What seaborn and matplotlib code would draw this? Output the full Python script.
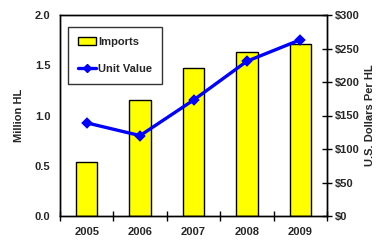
import matplotlib
matplotlib.use("Agg")
import matplotlib.pyplot as plt
import seaborn as sns
import pandas as pd
from matplotlib.ticker import FixedLocator, FuncFormatter
from matplotlib.patches import Patch
from matplotlib.lines import Line2D

years = ["2005", "2006", "2007", "2008", "2009"]
imports = [0.54, 1.15, 1.47, 1.63, 1.71]
unit_value = [139, 120, 173, 231, 263]

sns.set_theme(style="white")
plt.rcParams['font.family'] = ['Liberation Sans', 'DejaVu Sans']
plt.rcParams['font.weight'] = 'bold'

FS = 8

df = pd.DataFrame({"year": years, "imports": imports, "unit": unit_value})

fig = plt.figure(figsize=(3.83, 2.41), dpi=100)
ax = fig.add_axes([60/383, 1-216/241, (327-60)/383, (216-15)/241])

sns.barplot(data=df, x="year", y="imports", ax=ax, color="#FFFF00",
            edgecolor="black", linewidth=1.0, width=0.4, saturation=1)
ax.set_ylim(0, 2.0)
ax.set_xlim(-0.5, 4.5)
ax.set_yticks([0, 0.5, 1.0, 1.5, 2.0])
ax.yaxis.set_major_formatter(FuncFormatter(lambda v, p: f"{v:.1f}"))
ax.set_xlabel("")
ax.set_ylabel("Million HL", fontsize=FS, fontweight="bold", labelpad=8)
ax.tick_params(axis="y", length=0, labelsize=FS, pad=7)
ax.tick_params(axis="x", which="major", length=0, labelsize=FS, pad=8)
ax.xaxis.set_minor_locator(FixedLocator([-0.5, 0.5, 1.5, 2.5, 3.5, 4.5]))
ax.tick_params(axis="x", which="minor", direction="inout", length=7, width=1, color="black", bottom=True)
for lab in ax.get_xticklabels() + ax.get_yticklabels():
    lab.set_fontweight("bold")
for s in ax.spines.values():
    s.set_color("black")
    s.set_linewidth(1.0)

ax2 = ax.twinx()
sns.pointplot(data=df, x="year", y="unit", ax=ax2, color="#0000FF",
              markers="D", markersize=4, linewidth=2.4)
ax2.set_xlim(-0.5, 4.5)
ax2.set_ylim(0, 300)
ax2.set_yticks([0, 50, 100, 150, 200, 250, 300])
ax2.yaxis.set_major_formatter(FuncFormatter(lambda v, p: f"${int(v)}"))
ax2.set_ylabel("U.S. Dollars Per HL", fontsize=FS, fontweight="bold", labelpad=4)
ax2.tick_params(axis="y", direction="inout", length=7, width=1, color="black", labelsize=FS, pad=2, right=True)
for lab in ax2.get_yticklabels():
    lab.set_fontweight("bold")
for s in ax2.spines.values():
    s.set_color("black")
    s.set_linewidth(1.0)

handles = [Patch(facecolor="#FFFF00", edgecolor="black", label="Imports"),
           Line2D([0], [0], color="#0000FF", marker="D", markersize=4, linewidth=2.4, label="Unit Value")]
leg = ax2.legend(handles=handles, loc="upper left", bbox_to_anchor=(0.03, 0.94),
                 fontsize=FS, frameon=True, fancybox=False, edgecolor="black",
                 borderpad=0.9, labelspacing=1.5, handlelength=1.6, handletextpad=0.2,
                 borderaxespad=0)
leg.get_frame().set_linewidth(1.0)
for t in leg.get_texts():
    t.set_fontweight("bold")

fig.savefig("out.png", dpi=100)
